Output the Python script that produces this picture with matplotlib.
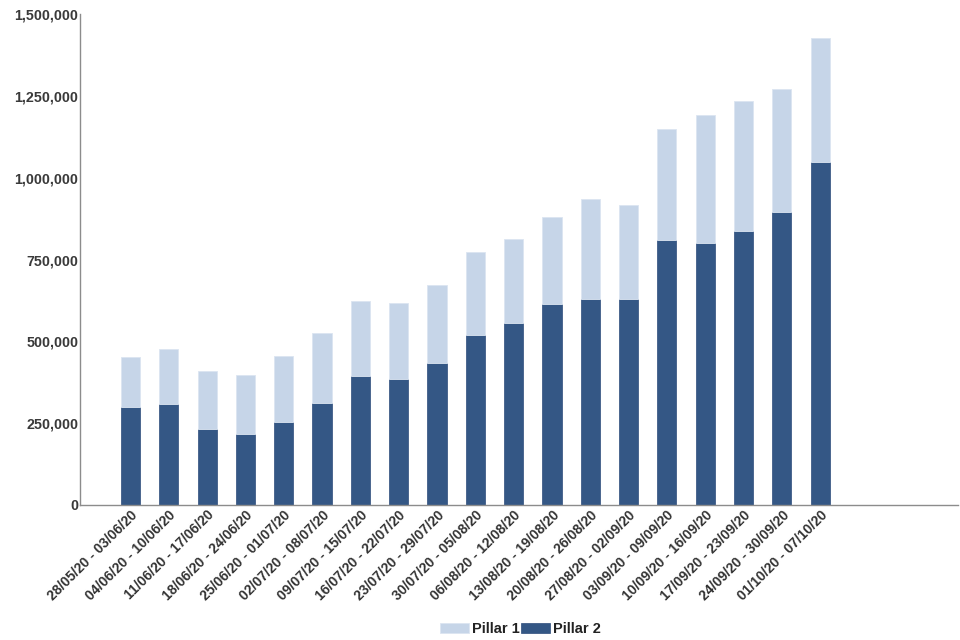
import matplotlib
matplotlib.use("Agg")
import matplotlib.pyplot as plt
import matplotlib.transforms as mtransforms
from matplotlib.ticker import FuncFormatter
import numpy as np

categories = [
    "28/05/20 - 03/06/20", "04/06/20 - 10/06/20", "11/06/20 - 17/06/20",
    "18/06/20 - 24/06/20", "25/06/20 - 01/07/20", "02/07/20 - 08/07/20",
    "09/07/20 - 15/07/20", "16/07/20 - 22/07/20", "23/07/20 - 29/07/20",
    "30/07/20 - 05/08/20", "06/08/20 - 12/08/20", "13/08/20 - 19/08/20",
    "20/08/20 - 26/08/20", "27/08/20 - 02/09/20", "03/09/20 - 09/09/20",
    "10/09/20 - 16/09/20", "17/09/20 - 23/09/20", "24/09/20 - 30/09/20",
    "01/10/20 - 07/10/20",
]
pillar2 = [298600, 308800, 231300, 217000, 253700, 310900, 393400, 384200,
           433100, 520000, 556400, 615400, 628800, 629700, 811100, 800900,
           838600, 896700, 1047600]
pillar1 = [153800, 168100, 179300, 180400, 201800, 214900, 230200, 232400,
           239400, 253400, 255800, 265000, 305700, 286400, 338300, 391300,
           396400, 375000, 380000]
yticks = [0, 250000, 500000, 750000, 1000000, 1250000, 1500000]

plt.rcParams['font.family'] = ['Liberation Sans', 'DejaVu Sans']

fig = plt.figure(figsize=(9.6, 6.4), dpi=100)
ax = fig.add_axes([0.0836, 0.211, 0.998 - 0.0836, 0.9777 - 0.211])

x = np.arange(len(categories))
c1 = '#c6d5e8'
c2 = '#345785'
ax.bar(x, pillar2, width=0.5, color=c2, edgecolor='#2c4c7c', linewidth=0.5, label='Pillar 2', zorder=2)
ax.bar(x, pillar1, width=0.5, bottom=pillar2, color=c1, edgecolor='#dbe5f1', linewidth=0.6, label='Pillar 1', zorder=2)

ax.set_xlim(-1.31, 21.6)
ax.set_ylim(0, 1500000)
ax.set_yticks(yticks)
ax.yaxis.set_major_formatter(FuncFormatter(lambda v, p: f"{int(v):,}"))
ax.set_xticks(x)
ax.set_xticklabels([])
label_tf = ax.get_xaxis_transform() + mtransforms.ScaledTranslation(5 / 100, -8 / 100, fig.dpi_scale_trans)
for xi, cat in zip(x, categories):
    ax.text(xi, 0, cat, transform=label_tf, rotation=45, ha='right', va='center',
            rotation_mode='anchor', fontsize=10, fontweight='bold', color='#333333',
            clip_on=False)
for lab in ax.get_yticklabels():
    lab.set_fontsize(10.3)
    lab.set_fontweight('bold')
    lab.set_color('#3a3a3a')
ax.tick_params(axis='both', length=0)
ax.tick_params(axis='y', pad=1.5)

for s in ['top', 'right']:
    ax.spines[s].set_visible(False)
for s in ['left', 'bottom']:
    ax.spines[s].set_color('#8c8c8c')
    ax.spines[s].set_linewidth(1.0)

handles, labels = ax.get_legend_handles_labels()
leg = fig.legend(handles[::-1], labels[::-1], loc='center', bbox_to_anchor=(0.542, 0.017),
                 ncol=2, frameon=False, prop={'size': 10.5, 'weight': 'bold'},
                 handlelength=2.0, handleheight=0.75, handletextpad=0.2, columnspacing=0.05,
                 borderpad=0)
for t in leg.get_texts():
    t.set_color('#222222')

fig.savefig('out.png', dpi=100)
